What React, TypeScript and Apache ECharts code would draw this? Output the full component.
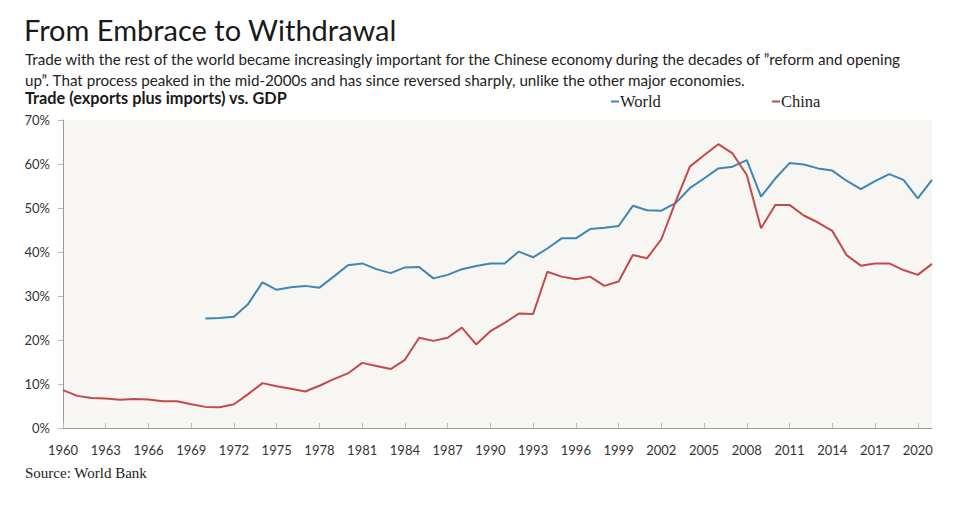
import React, { useEffect, useRef } from "react";
import * as echarts from "echarts";

const years: string[] = [];
for (let y = 1960; y <= 2021; y++) years.push(String(y));

// Trade (exports + imports) as % of GDP, 1960–2021
const chinaValues: number[] = [
  8.6, 7.3, 6.8, 6.7, 6.4, 6.6, 6.5, 6.1, 6.1, 5.4,
  4.8, 4.7, 5.4, 7.7, 10.2, 9.5, 8.9, 8.3, 9.6, 11.1,
  12.4, 14.8, 14.1, 13.4, 15.5, 20.5, 19.8, 20.5, 22.8, 19.0,
  22.0, 23.9, 26.0, 25.9, 35.5, 34.4, 33.8, 34.4, 32.3, 33.3,
  39.3, 38.6, 42.9, 51.4, 59.4, 62.0, 64.5, 62.4, 57.5, 45.4,
  50.7, 50.7, 48.3, 46.7, 44.8, 39.3, 36.9, 37.4, 37.4, 35.9,
  34.8, 37.3,
];

const worldValues: (number | null)[] = [
  null, null, null, null, null, null, null, null, null, null,
  24.9, 25.0, 25.3, 28.2, 33.1, 31.4, 32.0, 32.3, 31.9, 34.4,
  37.0, 37.4, 36.1, 35.2, 36.5, 36.6, 34.0, 34.8, 36.1, 36.8,
  37.4, 37.4, 40.1, 38.8, 40.8, 43.1, 43.1, 45.2, 45.5, 45.9,
  50.5, 49.5, 49.4, 51.1, 54.5, 56.7, 59.0, 59.4, 60.9, 52.6,
  56.7, 60.2, 59.9, 59.0, 58.5, 56.2, 54.3, 56.1, 57.7, 56.4,
  52.2, 56.4,
];

const titleText = "From Embrace to Withdrawal";
const subtitleLines = [
  "Trade with the rest of the world became increasingly important for the Chinese economy during the decades of \u201dreform and opening",
  "up\u201d. That process peaked in the mid-2000s and has since reversed sharply, unlike the other major economies.",
];
const axisTitle = "Trade (exports plus imports) vs. GDP";
const sourceText = "Source: World Bank";

const WORLD_COLOR = "#3f86b4";
const CHINA_COLOR = "#c4494a";
const SANS = "Lato, 'Open Sans', sans-serif";
const SERIF = "'Liberation Serif', 'DejaVu Serif', serif";

export default function App() {
  const ref = useRef<HTMLDivElement>(null);

  useEffect(() => {
    if (!ref.current) return;
    const chart = echarts.init(ref.current, undefined, { renderer: "svg" });
    chart.setOption({
      animation: false,
      backgroundColor: "#ffffff",
      title: [
        {
          text: titleText,
          left: 19,
          top: 10,
          textStyle: { fontFamily: SANS, fontSize: 29, fontWeight: "normal", color: "#1a1a1a" },
        },
        {
          text: subtitleLines.join("\n"),
          left: 20,
          top: 43,
          textStyle: { fontFamily: SANS, fontSize: 15.2, fontWeight: "normal", color: "#222", lineHeight: 21 },
        },
        {
          text: axisTitle,
          left: 20,
          top: 84,
          textStyle: { fontFamily: SANS, fontSize: 16.3, fontWeight: "bold", color: "#1a1a1a" },
        },
        {
          text: sourceText,
          left: 20,
          top: 460,
          textStyle: { fontFamily: SERIF, fontSize: 15, fontWeight: "normal", color: "#222" },
        },
      ],
      legend: [
        {
          data: ["World"],
          left: 606,
          top: 88,
          icon: "rect",
          itemWidth: 8,
          itemHeight: 2,
          textStyle: { fontFamily: SERIF, fontSize: 16.5, color: "#222", padding: [0, 0, 0, -4] },
        },
        {
          data: ["China"],
          left: 767,
          top: 88,
          icon: "rect",
          itemWidth: 8,
          itemHeight: 2,
          textStyle: { fontFamily: SERIF, fontSize: 16.5, color: "#222", padding: [0, 0, 0, -4] },
        },
      ],
      grid: {
        left: 63,
        right: 38,
        top: 120,
        bottom: 79,
        show: true,
        backgroundColor: "#f7f6f2",
        borderWidth: 0,
      },
      xAxis: {
        type: "category",
        data: years,
        boundaryGap: false,
        axisLine: { lineStyle: { color: "#9a9a9a", width: 1 } },
        axisTick: { show: true, inside: true, length: 5, interval: 2, lineStyle: { color: "#bbbbbb" } },
        axisLabel: {
          interval: 2,
          margin: 15,
          fontFamily: SANS,
          fontSize: 13,
          color: "#333",
        },
        splitLine: { show: false },
      },
      yAxis: {
        type: "value",
        min: 0,
        max: 70,
        interval: 10,
        axisLine: { show: true, lineStyle: { color: "#9a9a9a", width: 1 } },
        axisTick: { show: true, length: 5, lineStyle: { color: "#bbbbbb" } },
        axisLabel: {
          formatter: "{value}%",
          margin: 13,
          fontFamily: SANS,
          fontSize: 13,
          color: "#333",
        },
        splitLine: { show: false },
      },
      series: [
        {
          name: "World",
          type: "line",
          data: worldValues,
          showSymbol: false,
          symbol: "none",
          lineStyle: { color: WORLD_COLOR, width: 2 },
          itemStyle: { color: WORLD_COLOR },
        },
        {
          name: "China",
          type: "line",
          data: chinaValues,
          showSymbol: false,
          symbol: "none",
          lineStyle: { color: CHINA_COLOR, width: 2 },
          itemStyle: { color: CHINA_COLOR },
        },
      ],
    });
    return () => chart.dispose();
  }, []);

  return <div ref={ref} style={{ width: 970, height: 507, position: "absolute", left: 0, top: 0 }} />;
}
